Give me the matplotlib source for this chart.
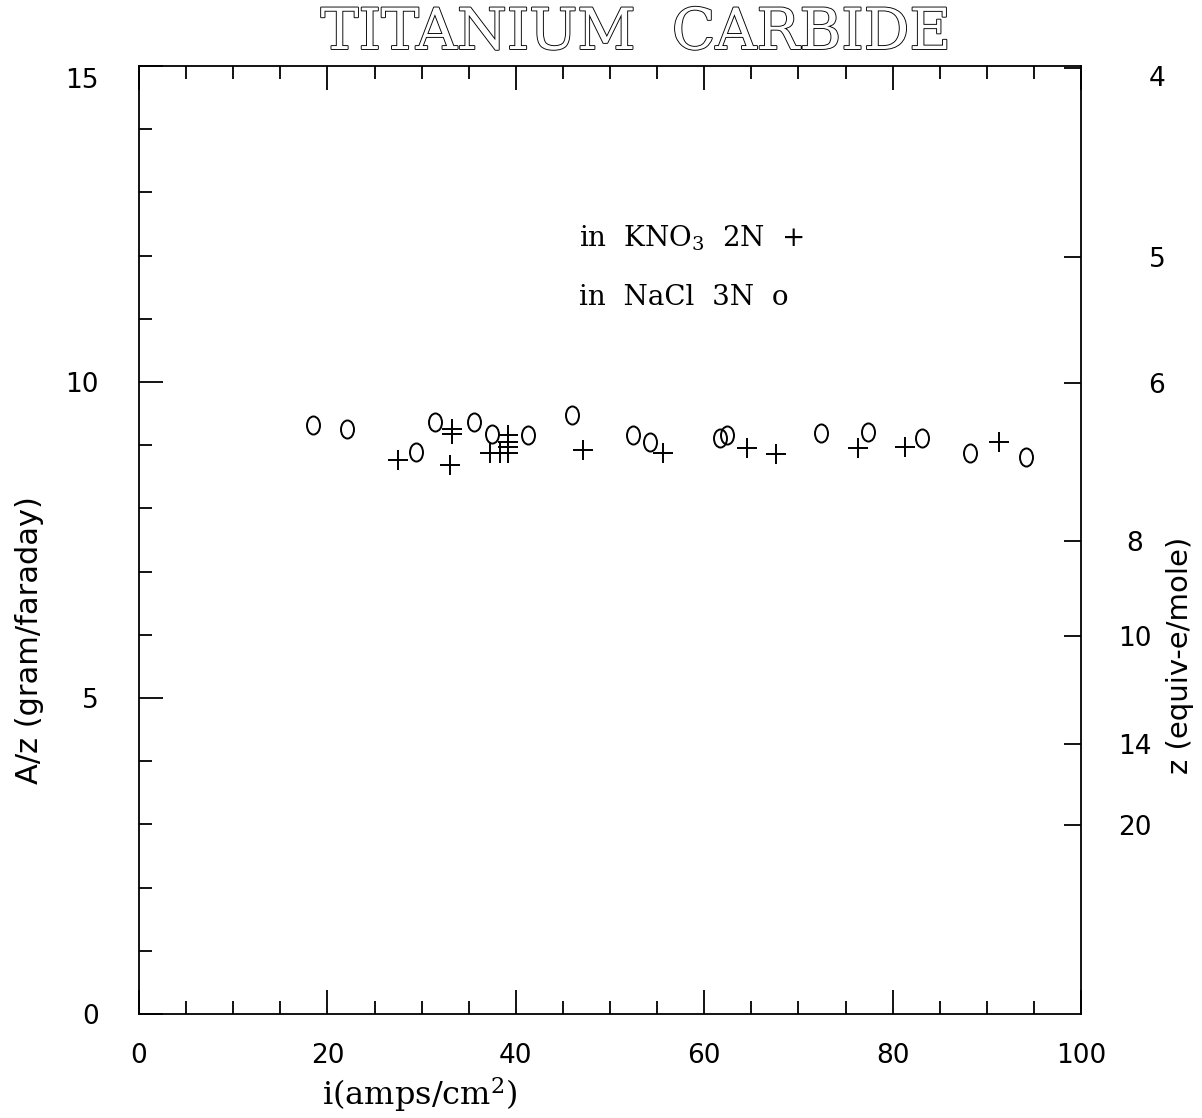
import numpy as np
import matplotlib
matplotlib.use("Agg")
import matplotlib.pyplot as plt
from matplotlib.path import Path
from matplotlib.transforms import Affine2D, ScaledTranslation
import matplotlib.patheffects as pe

# ---- data ----
nacl_i = [18.5, 22.1, 29.4, 31.4, 35.6, 37.5, 41.3, 46.0, 52.4, 54.2,
          61.7, 62.4, 72.4, 77.4, 83.1, 88.2, 94.2]
nacl_Az = [9.32, 9.26, 8.89, 9.37, 9.37, 9.18, 9.16, 9.48, 9.16, 9.05,
           9.11, 9.16, 9.19, 9.21, 9.11, 8.88, 8.81]

kno3_i = [27.5, 33.2, 33.2, 33.0, 37.3, 38.3, 39.2, 39.2, 39.2, 39.2,
          47.1, 55.6, 64.5, 67.6, 76.3, 81.3, 91.3]
kno3_Az = [8.77, 9.25, 9.17, 8.69, 8.88, 8.88, 8.88, 8.97, 9.05, 9.16,
           8.92, 8.88, 8.96, 8.86, 8.96, 8.97, 9.05]

M_TiC = 59.88  # g/mol
z_ticks = [4, 5, 6, 8, 10, 14, 20]
z_labels = ["4", "5", "6", "8", "10", "14", "20"]
x_ticks = [0, 20, 40, 60, 80, 100]
y_ticks = [0, 5, 10, 15]

plt.rcParams["mathtext.fontset"] = "dejavuserif"

fig = plt.figure(figsize=(12.02, 11.18), dpi=100)
ax = fig.add_axes([139/1202, 1 - 1014/1118, (1081-139)/1202, (1014-66)/1118])
ax.set_xlim(0, 100)
ax.set_ylim(0, 15)

ellipse = Path.unit_circle().transformed(Affine2D().scale(0.72, 1.0))
ax.plot(nacl_i, nacl_Az, linestyle="none", marker=ellipse, markersize=13,
        markerfacecolor="none", markeredgecolor="black", markeredgewidth=1.4)
ax.plot(kno3_i, kno3_Az, linestyle="none", marker="+", markersize=15,
        color="black", markeredgewidth=1.4)

for s in ax.spines.values():
    s.set_linewidth(1.3)

ax.set_xticks(x_ticks)
ax.set_xticks(np.arange(0, 101, 5), minor=True)
ax.set_yticks(y_ticks)
ax.set_yticks(np.arange(0, 16, 1), minor=True)
ax.tick_params(which="both", direction="in", top=True, right=False,
               width=1.3, color="black")
ax.tick_params(which="major", length=17)
ax.tick_params(which="minor", length=9.5)
ax.tick_params(axis="y", which="major", labelsize=19, pad=29)
ax.tick_params(axis="x", which="major", labelsize=19, pad=21)
for lab in ax.get_xticklabels():
    lab.set_fontfamily("DejaVu Sans")
for lab in ax.get_yticklabels():
    lab.set_fontfamily("DejaVu Sans")
    if lab.get_text() == "15":
        lab.set_transform(lab.get_transform() + ScaledTranslation(0, -12/100, fig.dpi_scale_trans))

# right axis: z (equiv-e/mole)
ax2 = ax.twinx()
ax2.set_ylim(0, 15)
ax2.set_yticks([M_TiC / z for z in z_ticks])
ax2.set_yticklabels(z_labels)
ax2.tick_params(axis="y", which="major", direction="in", length=12,
                width=1.3, labelsize=19, pad=27)
for lab in ax2.get_yticklabels():
    lab.set_fontfamily("DejaVu Sans")
    if lab.get_text() in ("4", "5", "6"):
        dy = -8/100 if lab.get_text() == "4" else 0
        lab.set_transform(lab.get_transform() + ScaledTranslation(30/100, dy, fig.dpi_scale_trans))
    elif lab.get_text() == "8":
        lab.set_transform(lab.get_transform() + ScaledTranslation(8/100, 0, fig.dpi_scale_trans))
for s in ax2.spines.values():
    s.set_visible(False)

# labels
fig.text(30/1202, 1 - 640/1118, "A/z (gram/faraday)", rotation=90,
         ha="center", va="center", fontsize=22, family="DejaVu Sans")
fig.text(1180/1202, 1 - 655/1118, "z (equiv-e/mole)", rotation=90,
         ha="center", va="center", fontsize=21, family="DejaVu Sans")
fig.text(420/1202, 1 - 1095/1118, "i(amps/cm$^{2}$)", ha="center", va="center",
         fontsize=23, family="DejaVu Serif")

# title (hollow letters)
fig.text(636/1202, 1 - 33/1118, "TITANIUM  CARBIDE", ha="center", va="center",
         fontsize=41, family="DejaVu Serif",
         color="white",
         path_effects=[pe.Stroke(linewidth=1.3, foreground="black"), pe.Normal()])

# in-plot legend text
ax.text(0.467, 0.818, "in  KNO$_3$  2N  +", transform=ax.transAxes,
        fontsize=20, family="DejaVu Serif", ha="left", va="center")
ax.text(0.467, 0.756, "in  NaCl  3N  o", transform=ax.transAxes,
        fontsize=20, family="DejaVu Serif", ha="left", va="center")

fig.savefig("out.png", dpi=100)
